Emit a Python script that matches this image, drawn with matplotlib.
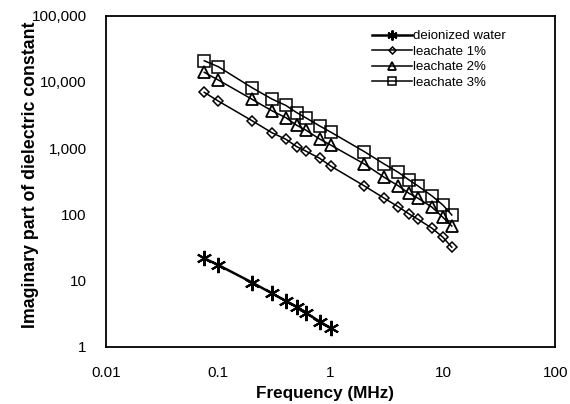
import matplotlib
matplotlib.use("Agg")
import matplotlib.pyplot as plt
from matplotlib.ticker import FixedLocator, FixedFormatter, NullLocator

plt.rcParams['font.family'] = ['Liberation Sans', 'DejaVu Sans']

freq = [0.075, 0.1, 0.2, 0.3, 0.4, 0.5, 0.6, 0.8, 1, 2, 3, 4, 5, 6, 8, 10, 12]
freq_water = [0.075, 0.1, 0.2, 0.3, 0.4, 0.5, 0.6, 0.8, 1]

water = [21.6, 17.1, 9.3, 6.4, 4.9, 4.0, 3.26, 2.39, 1.9]
leach1 = [6960, 5140, 2590, 1710, 1358, 1050, 904, 701, 537, 268, 175, 130, 101, 84, 61.5, 45, 31.8]
leach2 = [13960, 10690, 5460, 3670, 2880, 2210, 1876, 1371, 1114, 575, 362, 270, 207, 175, 128, 90, 66.5]
leach3 = [20900, 16980, 8170, 5520, 4410, 3430, 2880, 2160, 1750, 883, 575, 431, 330, 268, 189, 138, 97.6]

labels = ["deionized water", "leachate 1%", "leachate 2%", "leachate 3%"]

xticks = [0.01, 0.1, 1, 10, 100]
xticklabels = ["0.01", "0.1", "1", "10", "100"]
yticks = [1, 10, 100, 1000, 10000, 100000]
yticklabels = ["1", "10", "100", "1,000", "10,000", "100,000"]

fig = plt.figure(figsize=(5.7, 4.04), dpi=100)
ax = fig.add_axes([0.186, 0.142, 0.788, 0.819])

ax.plot(freq_water, water, color='black', lw=1.8, marker=(6, 2, 0), ms=11,
        mew=1.5, label=labels[0])
ax.plot(freq, leach1, color='black', lw=1.1, marker='D', ms=5.5,
        mfc='none', mew=1.1, label=labels[1])
ax.plot(freq, leach2, color='black', lw=1.1, marker='^', ms=8,
        mfc='none', mew=1.3, label=labels[2])
ax.plot(freq, leach3, color='black', lw=1.1, marker='s', ms=8,
        mfc='none', mew=1.1, label=labels[3])

ax.set_xscale('log')
ax.set_yscale('log')
ax.set_xlim(0.01, 100)
ax.set_ylim(1, 100000)

ax.xaxis.set_major_locator(FixedLocator(xticks))
ax.xaxis.set_major_formatter(FixedFormatter(xticklabels))
ax.yaxis.set_major_locator(FixedLocator(yticks))
ax.yaxis.set_major_formatter(FixedFormatter(yticklabels))
ax.xaxis.set_minor_locator(NullLocator())
ax.yaxis.set_minor_locator(NullLocator())
ax.tick_params(axis='both', which='both', length=0, labelsize=11)
ax.tick_params(axis='x', pad=14)
ax.tick_params(axis='y', pad=14)

for s in ax.spines.values():
    s.set_linewidth(1.3)

ax.set_xlabel("Frequency (MHz)", fontsize=12.3, fontweight='bold')
ax.xaxis.set_label_coords(0.488, -0.143)
ax.xaxis.label.set_va('center')
ax.set_ylabel("Imaginary part of dielectric constant", fontsize=12.8,
              fontweight='bold')
ax.yaxis.set_label_coords(-0.168, 0.519)
ax.yaxis.label.set_va('center')

leg = ax.legend(loc='upper left', bbox_to_anchor=(0.572, 0.985), frameon=False,
                fontsize=9.5, handlelength=3.0, handletextpad=0.1,
                labelspacing=0.25, markerscale=0.65, borderaxespad=0.3)

fig.savefig("out.png", dpi=100)
